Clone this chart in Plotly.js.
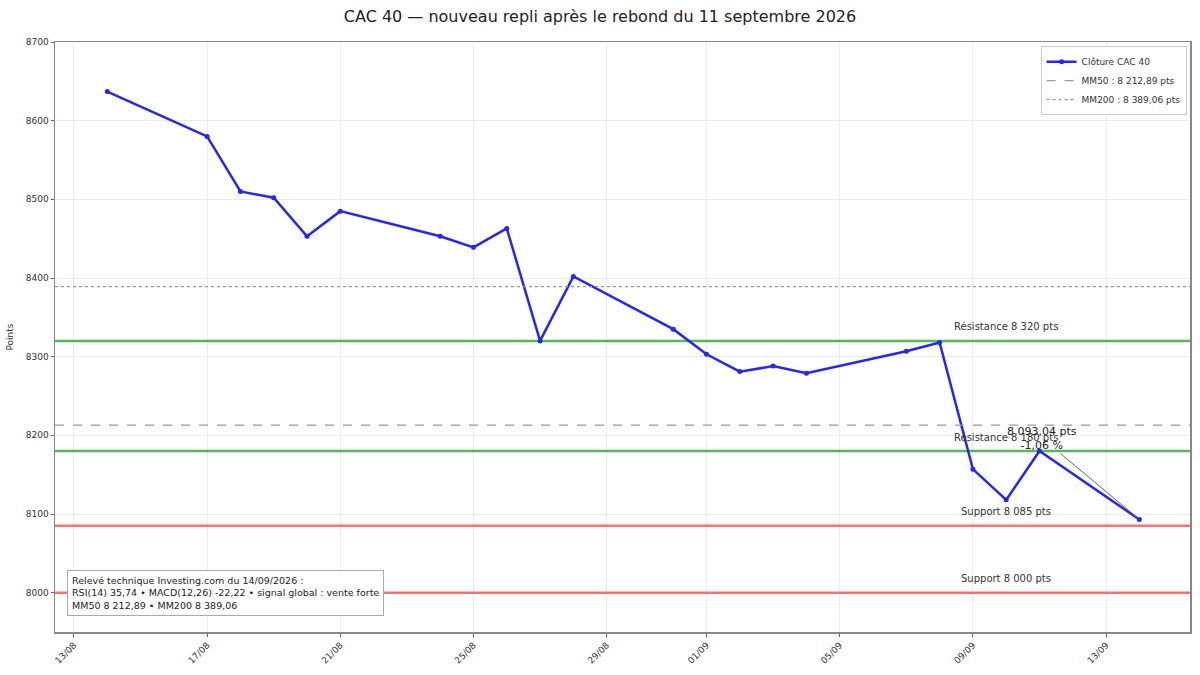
<!DOCTYPE html>
<html>
<head>
<meta charset="utf-8">
<script src="https://cdn.plot.ly/plotly-3.0.1.min.js"></script>
<style>html,body{margin:0;padding:0;background:#fff}#chart{width:1200px;height:675px}</style>
</head>
<body>
<div id="chart"></div>
<script>
const dates = ["2026-08-14","2026-08-17","2026-08-18","2026-08-19","2026-08-20","2026-08-21","2026-08-24","2026-08-25","2026-08-26","2026-08-27","2026-08-28","2026-08-31","2026-09-01","2026-09-02","2026-09-03","2026-09-04","2026-09-07","2026-09-08","2026-09-09","2026-09-10","2026-09-11","2026-09-14"];
const closes = [8637,8580,8510,8502,8453,8485,8453,8439,8463,8320,8402,8335,8303,8281,8288,8279,8307,8318,8157,8118,8180,8093.04];
const mm50 = 8212.89;
const mm200 = 8389.06;
const resistances = [8320, 8180];
const supports = [8085, 8000];
const levelLabelDate = "2026-09-10";
const tickVals = ["2026-08-13","2026-08-17","2026-08-21","2026-08-25","2026-08-29","2026-09-01","2026-09-05","2026-09-09","2026-09-13"];
const tickText = ["13/08","17/08","21/08","25/08","29/08","01/09","05/09","09/09","13/09"];
const xRange = ["2026-08-12 10:20","2026-09-15 12:30"];
const yRange = [7950, 8700];
const lastLabel = "8 093,04 pts<br>-1,06 %";
const boxText = "Relevé technique Investing.com du 14/09/2026 :<br>RSI(14) 35,74 • MACD(12,26) -22,22 • signal global : vente forte<br>MM50 8 212,89 • MM200 8 389,06";

const fmt = v => String(v).replace(/\B(?=(\d{3})+(?!\d))/g, " ");

const data = [];
const annotations = [];
resistances.forEach(r => {
  data.push({x:xRange, y:[r, r], type:"scatter", mode:"lines", showlegend:false, hoverinfo:"skip", line:{color:"rgba(60,170,60,0.85)", width:2.5}});
  annotations.push({x:levelLabelDate, y:r, yshift:14, text:"Résistance " + fmt(r) + " pts", showarrow:false, font:{size:10, color:"#333"}});
});
supports.forEach(s => {
  data.push({x:xRange, y:[s, s], type:"scatter", mode:"lines", showlegend:false, hoverinfo:"skip", line:{color:"rgba(255,80,80,0.8)", width:2.5}});
  annotations.push({x:levelLabelDate, y:s, yshift:14, text:"Support " + fmt(s) + " pts", showarrow:false, font:{size:10, color:"#333"}});
});

annotations.push({x:dates[dates.length-1], y:closes[closes.length-1], text:lastLabel, showarrow:true, arrowhead:0, arrowwidth:1, arrowcolor:"#666", ax:-97, ay:-81, font:{size:11, color:"#222"}, standoff:2});
annotations.push({xref:"paper", yref:"paper", x:0.011, y:0.027, xanchor:"left", yanchor:"bottom", align:"left", text:boxText, showarrow:false, bgcolor:"#fff", bordercolor:"#aaa", borderwidth:1, borderpad:4, font:{size:9.5, color:"#222"}});

data.push({
  x: dates, y: closes, type:"scatter", mode:"lines+markers", name:"Clôture CAC 40",
  line:{color:"#2525f5", width:2.5}, marker:{size:5, color:"#2525f5"}
});
data.push({
  x: xRange, y: [mm50, mm50], type:"scatter", mode:"lines", name:"MM50 : 8 212,89 pts",
  line:{color:"#999", width:1.2, dash:"dash"}
});
data.push({
  x: xRange, y: [mm200, mm200], type:"scatter", mode:"lines", name:"MM200 : 8 389,06 pts",
  line:{color:"#999", width:1.2, dash:"dot"}
});

const layout = {
  width:1200, height:675,
  margin:{l:55, r:10, t:42, b:43},
  paper_bgcolor:"#fff", plot_bgcolor:"#fff",
  font:{family:"DejaVu Sans, sans-serif", color:"#333"},
  title:{text:"CAC 40 — nouveau repli après le rebond du 11 septembre 2026", x:0.5, xanchor:"center", y:0.975, yanchor:"middle", font:{size:16, color:"#222"}},
  xaxis:{type:"date", range:xRange, tickvals:tickVals, ticktext:tickText, tickangle:-45, tickfont:{size:9, color:"#333"},
    showgrid:true, gridcolor:"#ececec", gridwidth:1, ticks:"outside", ticklen:3, tickcolor:"#666",
    showline:true, mirror:true, linecolor:"#888", linewidth:1.5, zeroline:false},
  yaxis:{range:yRange, dtick:100, tick0:8000, tickfont:{size:9, color:"#333"}, tickformat:"d",
    showgrid:true, gridcolor:"#ececec", gridwidth:1, ticks:"outside", ticklen:3, tickcolor:"#666",
    showline:true, mirror:true, linecolor:"#888", linewidth:1.5, zeroline:false,
    title:{text:"Points", font:{size:9, color:"#333"}, standoff:10}},
  legend:{x:0.997, y:0.993, xanchor:"right", yanchor:"top", bgcolor:"#fff", bordercolor:"#ccc", borderwidth:1, font:{size:9, color:"#333"}, tracegroupgap:0, itemwidth:30},
  annotations: annotations,
  showlegend:true
};

Plotly.newPlot("chart", data, layout, {displayModeBar:false, staticPlot:true});
</script>
</body>
</html>
